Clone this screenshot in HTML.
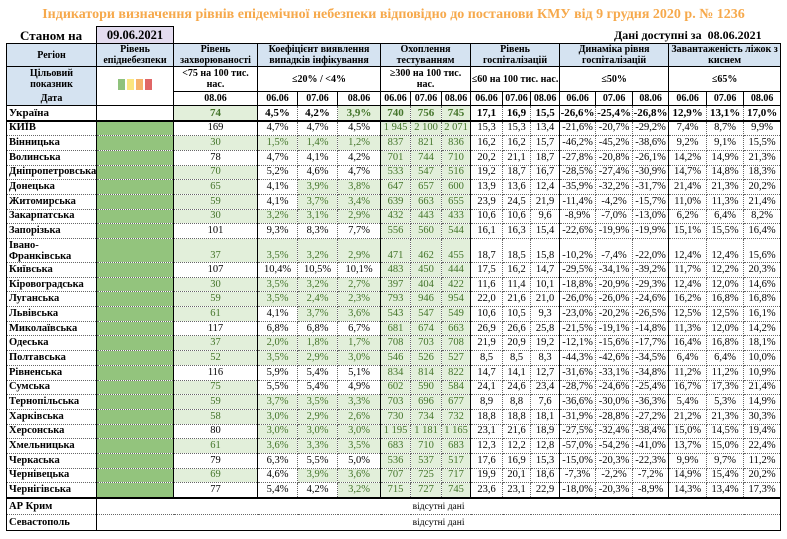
<!DOCTYPE html>
<html><head><meta charset="utf-8"><style>
body{margin:0;width:787px;height:539px;background:#fff;position:relative;overflow:hidden;font-family:"Liberation Serif",serif;}
.t{position:absolute;white-space:nowrap;font-weight:bold}
table{position:absolute;left:6px;top:43px;border-collapse:collapse;table-layout:fixed;width:774px;font-size:10.5px;border:1.5px solid #000}
td{padding:0;text-align:center;border-right:1px dotted #666;border-bottom:1px dotted #666;overflow:hidden;white-space:nowrap;line-height:12px}
td.s{border-right:1px solid #000}
td.n{text-align:left;font-weight:bold;padding-left:2px;border-right:1px solid #000;font-size:10.5px}
td.l{background:#93c47d;border-right:1px solid #000}
td.g{background:#e2efda;color:#44752a}
thead td{font-weight:bold;background:#fff;border-right:1px solid #000;border-bottom:1px solid #000;font-size:10px;line-height:11px;white-space:normal}
thead tr.h td{background:#d5e3f1}
td.b{background:#d5e3f1;text-align:center}
tr.d td{height:13.7px}
tr.u td{font-weight:bold;font-size:11px;height:13.5px;border-bottom:2px solid #000}
tr.x td{height:15px}
.sq{display:inline-block;width:7px;height:11px;margin:0 1px}
</style></head><body>
<div class="t" style="left:0;width:787px;text-align:center;top:7px;font-size:14px;color:#f6a94c">Індикатори визначення рівнів епідемічної небезпеки відповідно до постанови КМУ від 9 грудня 2020 р. № 1236</div>
<div class="t" style="left:20px;top:28px;font-size:13px">Станом на</div>
<div class="t" style="left:96px;top:26px;width:76px;height:16px;background:#e3dcef;border:1px solid #000;border-bottom:none;text-align:center;font-size:12.5px;line-height:16px">09.06.2021</div>
<div class="t" style="left:614px;top:28px;font-size:12px">Дані доступні за &nbsp;08.06.2021</div>
<table>
<colgroup><col style="width:90px"><col style="width:77px"><col style="width:84px"><col style="width:40px"><col style="width:40px"><col style="width:43px"><col style="width:30px"><col style="width:31px"><col style="width:29px"><col style="width:32px"><col style="width:28px"><col style="width:29px"><col style="width:36px"><col style="width:37px"><col style="width:36px"><col style="width:38px"><col style="width:37px"><col style="width:37px"></colgroup>
<thead>
<tr class="h" style="height:22px"><td>Регіон</td><td>Рівень епіднебезпеки</td><td>Рівень захворюваності</td><td colspan="3">Коефіцієнт виявлення випадків інфікування</td><td colspan="3">Охоплення тестуванням</td><td colspan="3">Рівень госпіталізацій</td><td colspan="3">Динаміка рівня госпіталізацій</td><td colspan="3">Завантаженість ліжок з киснем</td></tr>
<tr style="height:25px"><td class="b" style="border-bottom:none;padding:0 14px">Цільовий показник</td><td rowspan="2" style="vertical-align:middle"><span class="sq" style="background:#8fc27c"></span><span class="sq" style="background:#fbe57f"></span><span class="sq" style="background:#f6b26b"></span><span class="sq" style="background:#e06666"></span></td><td>&lt;75 на 100 тис. нас.</td><td colspan="3">≤20% / &lt;4%</td><td colspan="3">≥300 на 100 тис. нас.</td><td colspan="3">≤60 на 100 тис. нас.</td><td colspan="3">≤50%</td><td colspan="3">≤65%</td></tr>
<tr style="height:14px"><td class="b">Дата</td><td>08.06</td><td>06.06</td><td>07.06</td><td>08.06</td><td>06.06</td><td>07.06</td><td>08.06</td><td>06.06</td><td>07.06</td><td>08.06</td><td>06.06</td><td>07.06</td><td>08.06</td><td>06.06</td><td>07.06</td><td>08.06</td></tr>
</thead>
<tbody>
<tr class="u"><td class="n">Україна</td><td class="s"></td><td class="g s">74</td><td>4,5%</td><td>4,2%</td><td class="g s">3,9%</td><td class="g">740</td><td class="g">756</td><td class="g s">745</td><td>17,1</td><td>16,9</td><td class="s">15,5</td><td>-26,6%</td><td>-25,4%</td><td class="s">-26,8%</td><td>12,9%</td><td>13,1%</td><td>17,0%</td></tr>
<tr class="d"><td class="n">КИЇВ</td><td class="l"></td><td class="s">169</td><td>4,7%</td><td>4,7%</td><td class="s">4,5%</td><td class="g">1 945</td><td class="g">2 100</td><td class="g s">2 071</td><td>15,3</td><td>15,3</td><td class="s">13,4</td><td>-21,6%</td><td>-20,7%</td><td class="s">-29,2%</td><td>7,4%</td><td>8,7%</td><td>9,9%</td></tr>
<tr class="d"><td class="n">Вінницька</td><td class="l"></td><td class="g s">30</td><td class="g">1,5%</td><td class="g">1,4%</td><td class="g s">1,2%</td><td class="g">837</td><td class="g">821</td><td class="g s">836</td><td>16,2</td><td>16,2</td><td class="s">15,7</td><td>-46,2%</td><td>-45,2%</td><td class="s">-38,6%</td><td>9,2%</td><td>9,1%</td><td>15,5%</td></tr>
<tr class="d"><td class="n">Волинська</td><td class="l"></td><td class="s">78</td><td>4,7%</td><td>4,1%</td><td class="s">4,2%</td><td class="g">701</td><td class="g">744</td><td class="g s">710</td><td>20,2</td><td>21,1</td><td class="s">18,7</td><td>-27,8%</td><td>-20,8%</td><td class="s">-26,1%</td><td>14,2%</td><td>14,9%</td><td>21,3%</td></tr>
<tr class="d"><td class="n">Дніпропетровська</td><td class="l"></td><td class="g s">70</td><td>5,2%</td><td>4,6%</td><td class="s">4,7%</td><td class="g">533</td><td class="g">547</td><td class="g s">516</td><td>19,2</td><td>18,7</td><td class="s">16,7</td><td>-28,5%</td><td>-27,4%</td><td class="s">-30,9%</td><td>14,7%</td><td>14,8%</td><td>18,3%</td></tr>
<tr class="d"><td class="n">Донецька</td><td class="l"></td><td class="g s">65</td><td>4,1%</td><td class="g">3,9%</td><td class="g s">3,8%</td><td class="g">647</td><td class="g">657</td><td class="g s">600</td><td>13,9</td><td>13,6</td><td class="s">12,4</td><td>-35,9%</td><td>-32,2%</td><td class="s">-31,7%</td><td>21,4%</td><td>21,3%</td><td>20,2%</td></tr>
<tr class="d"><td class="n">Житомирська</td><td class="l"></td><td class="g s">59</td><td>4,1%</td><td class="g">3,7%</td><td class="g s">3,4%</td><td class="g">639</td><td class="g">663</td><td class="g s">655</td><td>23,9</td><td>24,5</td><td class="s">21,9</td><td>-11,4%</td><td>-4,2%</td><td class="s">-15,7%</td><td>11,0%</td><td>11,3%</td><td>21,4%</td></tr>
<tr class="d"><td class="n">Закарпатська</td><td class="l"></td><td class="g s">30</td><td class="g">3,2%</td><td class="g">3,1%</td><td class="g s">2,9%</td><td class="g">432</td><td class="g">443</td><td class="g s">433</td><td>10,6</td><td>10,6</td><td class="s">9,6</td><td>-8,9%</td><td>-7,0%</td><td class="s">-13,0%</td><td>6,2%</td><td>6,4%</td><td>8,2%</td></tr>
<tr class="d"><td class="n">Запорізька</td><td class="l"></td><td class="s">101</td><td>9,3%</td><td>8,3%</td><td class="s">7,7%</td><td class="g">556</td><td class="g">560</td><td class="g s">544</td><td>16,1</td><td>16,3</td><td class="s">15,4</td><td>-22,6%</td><td>-19,9%</td><td class="s">-19,9%</td><td>15,1%</td><td>15,5%</td><td>16,4%</td></tr>
<tr style="height:24px"><td class="n" style="line-height:11px">Івано-<br>Франківська</td><td class="l"></td><td class="g s" style="vertical-align:bottom">37</td><td class="g" style="vertical-align:bottom">3,5%</td><td class="g" style="vertical-align:bottom">3,2%</td><td class="g s" style="vertical-align:bottom">2,9%</td><td class="g" style="vertical-align:bottom">471</td><td class="g" style="vertical-align:bottom">462</td><td class="g s" style="vertical-align:bottom">455</td><td style="vertical-align:bottom">18,7</td><td style="vertical-align:bottom">18,5</td><td class="s" style="vertical-align:bottom">15,8</td><td style="vertical-align:bottom">-10,2%</td><td style="vertical-align:bottom">-7,4%</td><td class="s" style="vertical-align:bottom">-22,0%</td><td style="vertical-align:bottom">12,4%</td><td style="vertical-align:bottom">12,4%</td><td style="vertical-align:bottom">15,6%</td></tr>
<tr class="d"><td class="n">Київська</td><td class="l"></td><td class="s">107</td><td>10,4%</td><td>10,5%</td><td class="s">10,1%</td><td class="g">483</td><td class="g">450</td><td class="g s">444</td><td>17,5</td><td>16,2</td><td class="s">14,7</td><td>-29,5%</td><td>-34,1%</td><td class="s">-39,2%</td><td>11,7%</td><td>12,2%</td><td>20,3%</td></tr>
<tr class="d"><td class="n">Кіровоградська</td><td class="l"></td><td class="g s">30</td><td class="g">3,5%</td><td class="g">3,2%</td><td class="g s">2,7%</td><td class="g">397</td><td class="g">404</td><td class="g s">422</td><td>11,6</td><td>11,4</td><td class="s">10,1</td><td>-18,8%</td><td>-20,9%</td><td class="s">-29,3%</td><td>12,4%</td><td>12,0%</td><td>14,6%</td></tr>
<tr class="d"><td class="n">Луганська</td><td class="l"></td><td class="g s">59</td><td class="g">3,5%</td><td class="g">2,4%</td><td class="g s">2,3%</td><td class="g">793</td><td class="g">946</td><td class="g s">954</td><td>22,0</td><td>21,6</td><td class="s">21,0</td><td>-26,0%</td><td>-26,0%</td><td class="s">-24,6%</td><td>16,2%</td><td>16,8%</td><td>16,8%</td></tr>
<tr class="d"><td class="n">Львівська</td><td class="l"></td><td class="g s">61</td><td>4,1%</td><td class="g">3,7%</td><td class="g s">3,6%</td><td class="g">543</td><td class="g">547</td><td class="g s">549</td><td>10,6</td><td>10,5</td><td class="s">9,3</td><td>-23,0%</td><td>-20,2%</td><td class="s">-26,5%</td><td>12,5%</td><td>12,5%</td><td>16,1%</td></tr>
<tr class="d"><td class="n">Миколаївська</td><td class="l"></td><td class="s">117</td><td>6,8%</td><td>6,8%</td><td class="s">6,7%</td><td class="g">681</td><td class="g">674</td><td class="g s">663</td><td>26,9</td><td>26,6</td><td class="s">25,8</td><td>-21,5%</td><td>-19,1%</td><td class="s">-14,8%</td><td>11,3%</td><td>12,0%</td><td>14,2%</td></tr>
<tr class="d"><td class="n">Одеська</td><td class="l"></td><td class="g s">37</td><td class="g">2,0%</td><td class="g">1,8%</td><td class="g s">1,7%</td><td class="g">708</td><td class="g">703</td><td class="g s">708</td><td>21,9</td><td>20,9</td><td class="s">19,2</td><td>-12,1%</td><td>-15,6%</td><td class="s">-17,7%</td><td>16,4%</td><td>16,8%</td><td>18,1%</td></tr>
<tr class="d"><td class="n">Полтавська</td><td class="l"></td><td class="g s">52</td><td class="g">3,5%</td><td class="g">2,9%</td><td class="g s">3,0%</td><td class="g">546</td><td class="g">526</td><td class="g s">527</td><td>8,5</td><td>8,5</td><td class="s">8,3</td><td>-44,3%</td><td>-42,6%</td><td class="s">-34,5%</td><td>6,4%</td><td>6,4%</td><td>10,0%</td></tr>
<tr class="d"><td class="n">Рівненська</td><td class="l"></td><td class="s">116</td><td>5,9%</td><td>5,4%</td><td class="s">5,1%</td><td class="g">834</td><td class="g">814</td><td class="g s">822</td><td>14,7</td><td>14,1</td><td class="s">12,7</td><td>-31,6%</td><td>-33,1%</td><td class="s">-34,8%</td><td>11,2%</td><td>11,2%</td><td>10,9%</td></tr>
<tr class="d"><td class="n">Сумська</td><td class="l"></td><td class="g s">75</td><td>5,5%</td><td>5,4%</td><td class="s">4,9%</td><td class="g">602</td><td class="g">590</td><td class="g s">584</td><td>24,1</td><td>24,6</td><td class="s">23,4</td><td>-28,7%</td><td>-24,6%</td><td class="s">-25,4%</td><td>16,7%</td><td>17,3%</td><td>21,4%</td></tr>
<tr class="d"><td class="n">Тернопільська</td><td class="l"></td><td class="g s">59</td><td class="g">3,7%</td><td class="g">3,5%</td><td class="g s">3,3%</td><td class="g">703</td><td class="g">696</td><td class="g s">677</td><td>8,9</td><td>8,8</td><td class="s">7,6</td><td>-36,6%</td><td>-30,0%</td><td class="s">-36,3%</td><td>5,4%</td><td>5,3%</td><td>14,9%</td></tr>
<tr class="d"><td class="n">Харківська</td><td class="l"></td><td class="g s">58</td><td class="g">3,0%</td><td class="g">2,9%</td><td class="g s">2,6%</td><td class="g">730</td><td class="g">734</td><td class="g s">732</td><td>18,8</td><td>18,8</td><td class="s">18,1</td><td>-31,9%</td><td>-28,8%</td><td class="s">-27,2%</td><td>21,2%</td><td>21,3%</td><td>30,3%</td></tr>
<tr class="d"><td class="n">Херсонська</td><td class="l"></td><td class="s">80</td><td class="g">3,0%</td><td class="g">3,0%</td><td class="g s">3,0%</td><td class="g">1 195</td><td class="g">1 181</td><td class="g s">1 165</td><td>23,1</td><td>21,6</td><td class="s">18,9</td><td>-27,5%</td><td>-32,4%</td><td class="s">-38,4%</td><td>15,0%</td><td>14,5%</td><td>19,4%</td></tr>
<tr class="d"><td class="n">Хмельницька</td><td class="l"></td><td class="g s">61</td><td class="g">3,6%</td><td class="g">3,3%</td><td class="g s">3,5%</td><td class="g">683</td><td class="g">710</td><td class="g s">683</td><td>12,3</td><td>12,2</td><td class="s">12,8</td><td>-57,0%</td><td>-54,2%</td><td class="s">-41,0%</td><td>13,7%</td><td>15,0%</td><td>22,4%</td></tr>
<tr class="d"><td class="n">Черкаська</td><td class="l"></td><td class="s">79</td><td>6,3%</td><td>5,5%</td><td class="s">5,0%</td><td class="g">536</td><td class="g">537</td><td class="g s">517</td><td>17,6</td><td>16,9</td><td class="s">15,3</td><td>-15,0%</td><td>-20,3%</td><td class="s">-22,3%</td><td>9,9%</td><td>9,7%</td><td>11,2%</td></tr>
<tr class="d"><td class="n">Чернівецька</td><td class="l"></td><td class="g s">69</td><td>4,6%</td><td class="g">3,9%</td><td class="g s">3,6%</td><td class="g">707</td><td class="g">725</td><td class="g s">717</td><td>19,9</td><td>20,1</td><td class="s">18,6</td><td>-7,3%</td><td>-2,2%</td><td class="s">-7,2%</td><td>14,9%</td><td>15,4%</td><td>20,2%</td></tr>
<tr class="d"><td class="n" style="border-bottom:2px solid #000">Чернігівська</td><td class="l" style="border-bottom:2px solid #000"></td><td class="s" style="border-bottom:2px solid #000">77</td><td style="border-bottom:2px solid #000">5,4%</td><td style="border-bottom:2px solid #000">4,2%</td><td class="g s" style="border-bottom:2px solid #000">3,2%</td><td class="g" style="border-bottom:2px solid #000">715</td><td class="g" style="border-bottom:2px solid #000">727</td><td class="g s" style="border-bottom:2px solid #000">745</td><td style="border-bottom:2px solid #000">23,6</td><td style="border-bottom:2px solid #000">23,1</td><td class="s" style="border-bottom:2px solid #000">22,9</td><td style="border-bottom:2px solid #000">-18,0%</td><td style="border-bottom:2px solid #000">-20,3%</td><td class="s" style="border-bottom:2px solid #000">-8,9%</td><td style="border-bottom:2px solid #000">14,3%</td><td style="border-bottom:2px solid #000">13,4%</td><td style="border-bottom:2px solid #000">17,3%</td></tr>
<tr class="x"><td class="n">АР Крим</td><td colspan="17" style="font-size:9.5px">відсутні дані</td></tr>
<tr class="x"><td class="n">Севастополь</td><td colspan="17" style="font-size:9.5px">відсутні дані</td></tr>
</tbody></table>
</body></html>
